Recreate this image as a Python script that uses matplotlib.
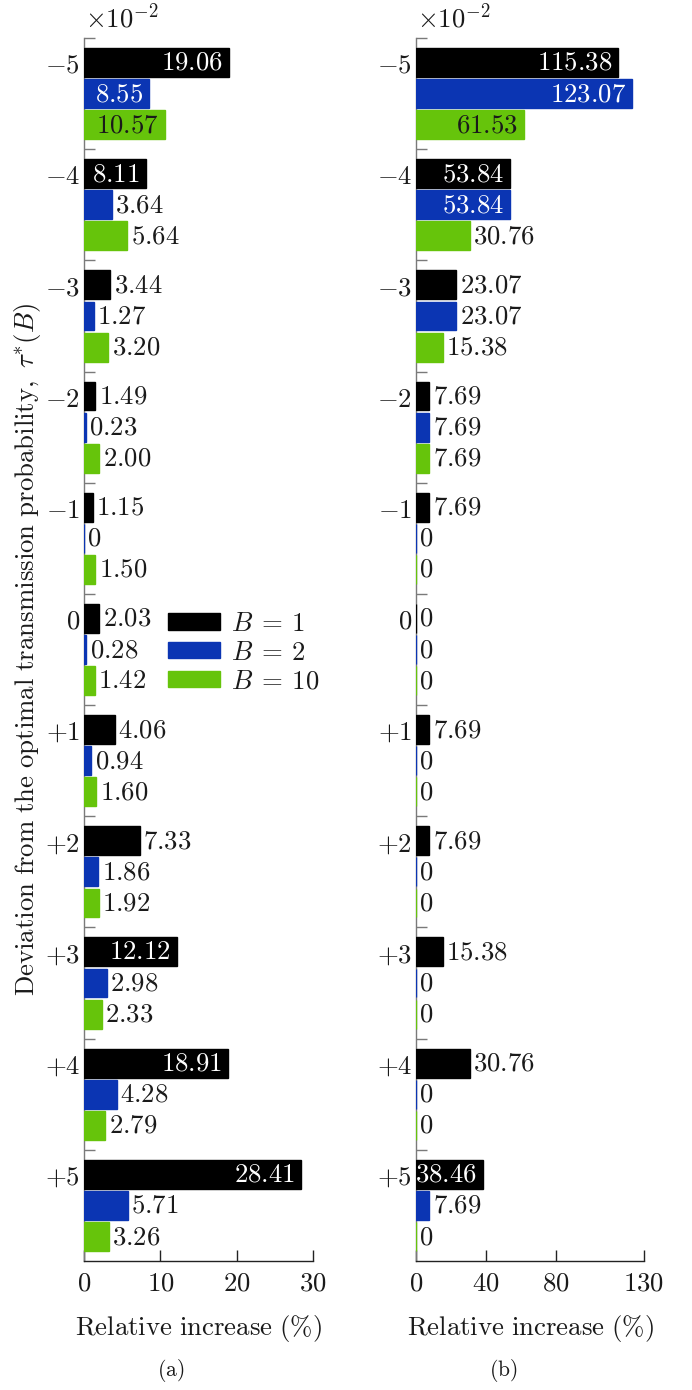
import numpy as np
import matplotlib
matplotlib.use("Agg")
import matplotlib.pyplot as plt
from matplotlib.patches import Patch

plt.rcParams["mathtext.fontset"] = "cm"
plt.rcParams["font.family"] = ["DejaVu Serif"]

# deviation steps from the optimal transmission probability
deviation_labels = [r"$-5$", r"$-4$", r"$-3$", r"$-2$", r"$-1$", r"$0$",
                    r"$+1$", r"$+2$", r"$+3$", r"$+4$", r"$+5$"]
series_names = [r"$B\:=\:1$", r"$B\:=\:2$", r"$B\:=\:10$"]

# (a) relative increase, scaled by 10^-2
a_b1 = [19.06, 8.11, 3.44, 1.49, 1.15, 2.03, 4.06, 7.33, 12.12, 18.91, 28.41]
a_b2 = [8.55, 3.64, 1.27, 0.23, 0.0, 0.28, 0.94, 1.86, 2.98, 4.28, 5.71]
a_b10 = [10.57, 5.64, 3.20, 2.00, 1.50, 1.42, 1.60, 1.92, 2.33, 2.79, 3.26]

# (b) relative increase, scaled by 10^-2
b_b1 = [115.38, 53.84, 23.07, 7.69, 7.69, 0.0, 7.69, 7.69, 15.38, 30.76, 38.46]
b_b2 = [123.07, 53.84, 23.07, 7.69, 0.0, 0.0, 0.0, 0.0, 0.0, 0.0, 7.69]
b_b10 = [61.53, 30.76, 15.38, 7.69, 0.0, 0.0, 0.0, 0.0, 0.0, 0.0, 0.0]

a_xticks = [0, 10, 20, 30]
b_xticks = [0, 40, 80, 130]

colors = ["#000000", "#0b35b3", "#66c40b"]
inside_text = ["white", "white", "#1a1a1a"]
text_col = "#1a1a1a"
FS = 19.3
W, H = 692, 1390

fig = plt.figure(figsize=(W / 100, H / 100), dpi=100)


def px_axes(x0, x1, ytop, ybot):
    return fig.add_axes([x0 / W, 1 - ybot / H, (x1 - x0) / W, (ybot - ytop) / H])


def draw_panel(ax, series, xmax, xticks):
    n = len(deviation_labels)
    pos = np.arange(n)
    offsets = [-0.28, 0.0, 0.28]
    height = 0.26
    ax.set_xlim(0, xmax)
    ax.set_ylim(n - 0.5, -0.5)
    for vals, off, c, tc in zip(series, offsets, colors, inside_text):
        ax.barh(pos + off, vals, height=height, color=c, edgecolor=c,
                linewidth=1.0, zorder=3)
        for y, v in zip(pos + off, vals):
            s = "0" if v == 0 else f"{v:.2f}"
            if v / xmax > 0.26:
                ax.annotate(f"${s}$", (v, y), xytext=(-4.5, 0),
                            textcoords="offset points", ha="right",
                            va="center", color=tc, fontsize=FS, zorder=4)
            else:
                ax.annotate(f"${s}$", (v, y), xytext=(2.5, 0),
                            textcoords="offset points", ha="left",
                            va="center", color=text_col, fontsize=FS, zorder=4)
    for side in ("top", "right"):
        ax.spines[side].set_visible(False)
    ax.spines["left"].set_color("#7a7a7a")
    ax.spines["bottom"].set_color("#222222")
    ax.spines["left"].set_linewidth(1.0)
    ax.spines["bottom"].set_linewidth(1.0)
    ax.set_yticks(pos - 0.28)
    ax.set_yticklabels(deviation_labels, fontsize=FS, color=text_col)
    ax.tick_params(axis="y", length=0, pad=3)
    ax.set_yticks(np.arange(n) - 0.5, minor=True)
    ax.tick_params(axis="y", which="minor", direction="in", length=8,
                   width=1.0, color="#7a7a7a")
    ax.set_xticks(xticks)
    ax.set_xticklabels([f"${t}$" for t in xticks], fontsize=FS, color=text_col)
    ax.tick_params(axis="x", direction="in", length=8, width=1.0,
                   color="#222222", pad=6)
    ax.set_xlabel(r"$\mathrm{Relative\ increase\ (\%)}$", fontsize=FS,
                  color=text_col, labelpad=12)
    ax.set_facecolor("none")


ax1 = px_axes(84, 313, 38, 1261)
ax2 = px_axes(416, 644, 38, 1261)
draw_panel(ax1, [a_b1, a_b2, a_b10], 30, a_xticks)
draw_panel(ax2, [b_b1, b_b2, b_b10], 130, b_xticks)

for x0 in (85, 417):
    fig.text(x0 / W, 1 - 18 / H, r"$\times 10^{-2}$", fontsize=FS,
             ha="left", va="center", color=text_col)

fig.text(28 / W, 1 - 649 / H,
         r"$\mathrm{Deviation\ from\ the\ optimal\ transmission\ probability,}\ \tau^{*}(B)$",
         rotation=90, ha="center", va="center", fontsize=FS, color=text_col)

fig.text(171 / W, 1 - 1370 / H, r"$\mathrm{(a)}$", fontsize=15.5,
         ha="center", va="center", color=text_col)
fig.text(503 / W, 1 - 1370 / H, r"$\mathrm{(b)}$", fontsize=15.5,
         ha="center", va="center", color=text_col)

handles = [Patch(facecolor=c, edgecolor=c) for c in colors]
ax1.legend(handles, series_names, loc="upper left",
           bbox_to_anchor=((168 - 84) / 229, (1261 - 610) / 1223),
           frameon=False, fontsize=FS, handlelength=1.94, handleheight=0.55,
           handletextpad=0.4, labelspacing=0.06, borderpad=0,
           borderaxespad=0, labelcolor=text_col)

fig.savefig("out.png", dpi=100)
